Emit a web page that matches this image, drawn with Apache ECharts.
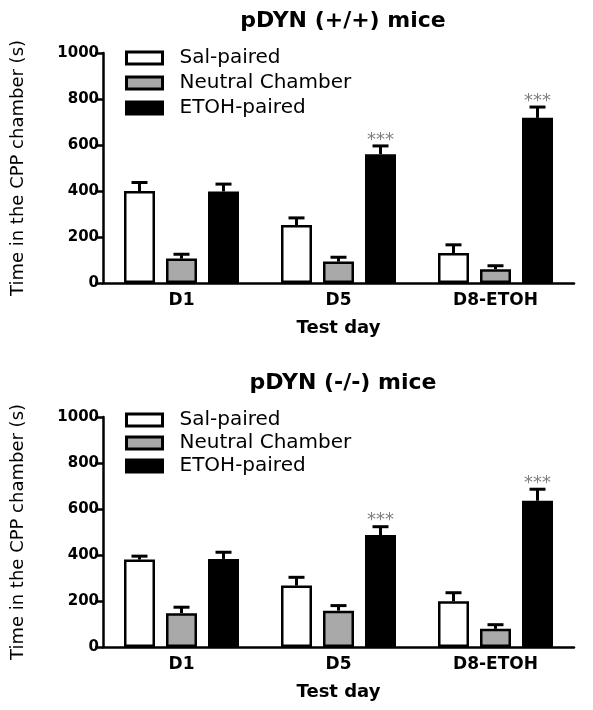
<!DOCTYPE html>
<html><head><meta charset="utf-8">
<script src="https://cdn.jsdelivr.net/npm/echarts@6/dist/echarts.min.js"></script>
<style>html,body{margin:0;padding:0;background:#fff}#c{width:593px;height:710px}</style>
</head><body><div id="c"></div>
<script>
// ---- data ----
const categories = ['D1', 'D5', 'D8-ETOH'];
const groupNames = ['Sal-paired', 'Neutral Chamber', 'ETOH-paired'];
const panelTitles = ['pDYN (+/+) mice', 'pDYN (-/-) mice'];
const yAxisName = 'Time in the CPP chamber (s)';
const xAxisName = 'Test day';

// pDYN (+/+) mice : means and SEM
const wtSal = [400, 252, 130];
const wtSalErr = [37, 31, 36];
const wtNeutral = [106, 93, 60];
const wtNeutralErr = [19, 19, 15];
const wtEtoh = [398, 560, 718];
const wtEtohErr = [32, 36, 47];
const wtEtohSig = ['', '***', '***'];

// pDYN (-/-) mice : means and SEM
const koSal = [380, 267, 199];
const koSalErr = [15, 36, 37];
const koNeutral = [147, 158, 79];
const koNeutralErr = [26, 22, 18];
const koEtoh = [383, 487, 636];
const koEtohErr = [29, 36, 50];
const koEtohSig = ['', '***', '***'];

// ---- styles ----
const FONT = 'DejaVu Sans';
const fills = ['#ffffff', '#a9a9a9', '#000000'];
const BAR_W = 31, BAR_GAP = 11;
const noSig = ['', '', ''];

const panels = [
  { vals: [wtSal, wtNeutral, wtEtoh], errs: [wtSalErr, wtNeutralErr, wtEtohErr], sig: [noSig, noSig, wtEtohSig] },
  { vals: [koSal, koNeutral, koEtoh], errs: [koSalErr, koNeutralErr, koEtohErr], sig: [noSig, noSig, koEtohSig] }
];
const gridTops = [53, 417];

const grids = [], xAxes = [], yAxes = [], series = [], titles = [], legends = [];
panels.forEach((p, pi) => {
  grids.push({ left: 103, right: 19, top: gridTops[pi], height: 230 });
  xAxes.push({
    gridIndex: pi, type: 'category', data: categories,
    axisLine: { lineStyle: { color: '#000', width: 2.5 } },
    axisTick: { alignWithLabel: true, length: 6, lineStyle: { color: '#000', width: 2.5 } },
    axisLabel: { color: '#000', fontFamily: FONT, fontWeight: 'bold', fontSize: 17, margin: 9 },
    name: xAxisName, nameLocation: 'middle', nameGap: 36,
    nameTextStyle: { color: '#000', fontFamily: FONT, fontWeight: 'bold', fontSize: 18 }
  });
  yAxes.push({
    gridIndex: pi, type: 'value', min: 0, max: 1000, interval: 200,
    axisLine: { show: true, lineStyle: { color: '#000', width: 2.5 } },
    axisTick: { show: true, length: 8, lineStyle: { color: '#000', width: 2.5 } },
    splitLine: { show: false },
    axisLabel: { color: '#000', fontFamily: FONT, fontWeight: 'bold', fontSize: 15, margin: 4,
      formatter: function (v) { return String(v); } },
    name: yAxisName, nameLocation: 'middle', nameGap: 76,
    nameTextStyle: { color: '#000', fontFamily: FONT, fontSize: 18 }
  });
  titles.push({
    text: panelTitles[pi], left: 338, top: gridTops[pi] - (pi ? 50 : 48), textAlign: 'center',
    textStyle: { color: '#000', fontFamily: FONT, fontWeight: 'bold', fontSize: 22 }
  });
  legends.push({
    orient: 'vertical', left: 120, top: gridTops[pi] - (pi ? 12 : 10),
    itemWidth: 36, itemHeight: 12, itemGap: pi ? 3 : 5, icon: 'rect',
    data: groupNames, selectedMode: false,
    itemStyle: { borderWidth: 3 },
    textStyle: { color: '#000', fontFamily: FONT, fontSize: 20, padding: [0, 0, 0, 12] }
  });
  p.vals.forEach((v, gi) => {
    series.push({
      type: 'bar', name: groupNames[gi], xAxisIndex: pi, yAxisIndex: pi,
      data: v, barWidth: BAR_W, barGap: (BAR_GAP / BAR_W * 100) + '%',
      itemStyle: { color: fills[gi], borderColor: '#000', borderWidth: 2.5 },
      silent: true
    });
    const offset = (gi - 1) * (BAR_W + BAR_GAP);
    const sig = p.sig[gi];
    series.push({
      type: 'custom', xAxisIndex: pi, yAxisIndex: pi, silent: true, z: 5,
      data: v.map((val, ci) => [ci, val, p.errs[gi][ci]]),
      renderItem: function (params, api) {
        const ci = api.value(0), val = api.value(1), e = api.value(2);
        const base = api.coord([ci, val]);
        const top = api.coord([ci, val + e]);
        const x = base[0] + offset;
        const cap = 8;
        const children = [
          { type: 'line', shape: { x1: x, y1: base[1], x2: x, y2: top[1] }, style: { stroke: '#000', lineWidth: 3 } },
          { type: 'line', shape: { x1: x - cap, y1: top[1], x2: x + cap, y2: top[1] }, style: { stroke: '#000', lineWidth: 3 } }
        ];
        const s = sig[params.dataIndex];
        if (s) {
          children.push({ type: 'text', style: { text: s, x: x, y: top[1] + 3, align: 'center', verticalAlign: 'bottom', fill: '#808080', font: '18px "DejaVu Sans"' } });
        }
        return { type: 'group', children: children };
      }
    });
  });
});

const chart = echarts.init(document.getElementById('c'), null, { renderer: 'canvas' });
chart.setOption({
  animation: false,
  backgroundColor: '#fff',
  title: titles, legend: legends,
  grid: grids, xAxis: xAxes, yAxis: yAxes, series: series
});
</script>
</body></html>
